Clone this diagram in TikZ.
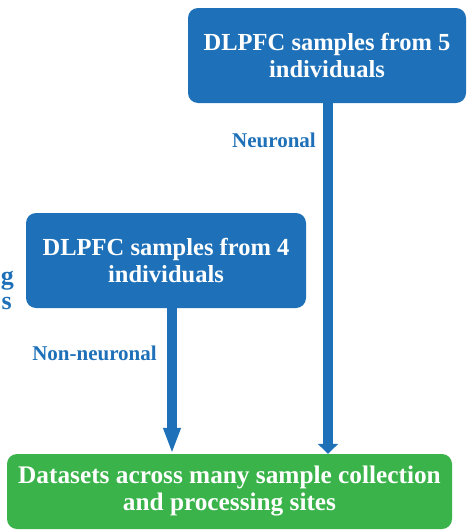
\documentclass[tikz,border=0pt]{standalone}
\usepackage{fontspec}
\setmainfont{Liberation Serif}
\usetikzlibrary{arrows.meta}
\definecolor{boxblue}{HTML}{1E71B8}
\definecolor{boxgreen}{HTML}{3AB44A}
\begin{document}
\begin{tikzpicture}[x=1pt,y=-1pt,
  box/.style={rounded corners=10pt, inner sep=0pt, align=center, text=white,
    font=\bfseries\fontsize{24.5}{26.5}\selectfont},
  bluebox/.style={box, fill=boxblue, minimum width=278pt, minimum height=95pt},
  greenbox/.style={box, fill=boxgreen, minimum width=445pt, minimum height=75pt,
    font=\bfseries\fontsize{25.3}{27}\selectfont},
  lbl/.style={text=boxblue, font=\bfseries\fontsize{21}{23}\selectfont, inner sep=0pt, anchor=base},
  cut/.style={text=boxblue, font=\bfseries\fontsize{26}{26}\selectfont, inner sep=0pt, anchor=base east},
  flow/.style={draw=boxblue, line width=10pt}
]
\useasboundingbox (0,0) rectangle (471,530);
\node[bluebox] (top) at (327,55.5) {DLPFC samples from 5\\individuals};
\node[bluebox, minimum width=280pt] (left) at (166,260.5) {DLPFC samples from 4\\individuals};
\node[greenbox] (bottom) at (229.5,491.5) {Datasets across many sample collection\\and processing sites};
\node[lbl] (neu) at (274,147) {Neuronal};
\node[lbl] (non) at (94.5,360) {Non-neuronal};
\node[cut, text height=12pt, text depth=6pt] (cutg) at (14,284) {g};
\node[cut, text height=12pt, text depth=0pt] (cuts) at (12,309) {s};
\draw[flow, -{Triangle[width=20pt,length=10pt]}] ([xshift=1pt]top.south) -- ([xshift=1pt]top.south |- bottom.north);
\draw[flow, -{Triangle[width=16pt,length=26pt]}] ([xshift=6pt]left.south) -- ([xshift=6pt]left.south |- bottom.north);
\end{tikzpicture}
\end{document}
